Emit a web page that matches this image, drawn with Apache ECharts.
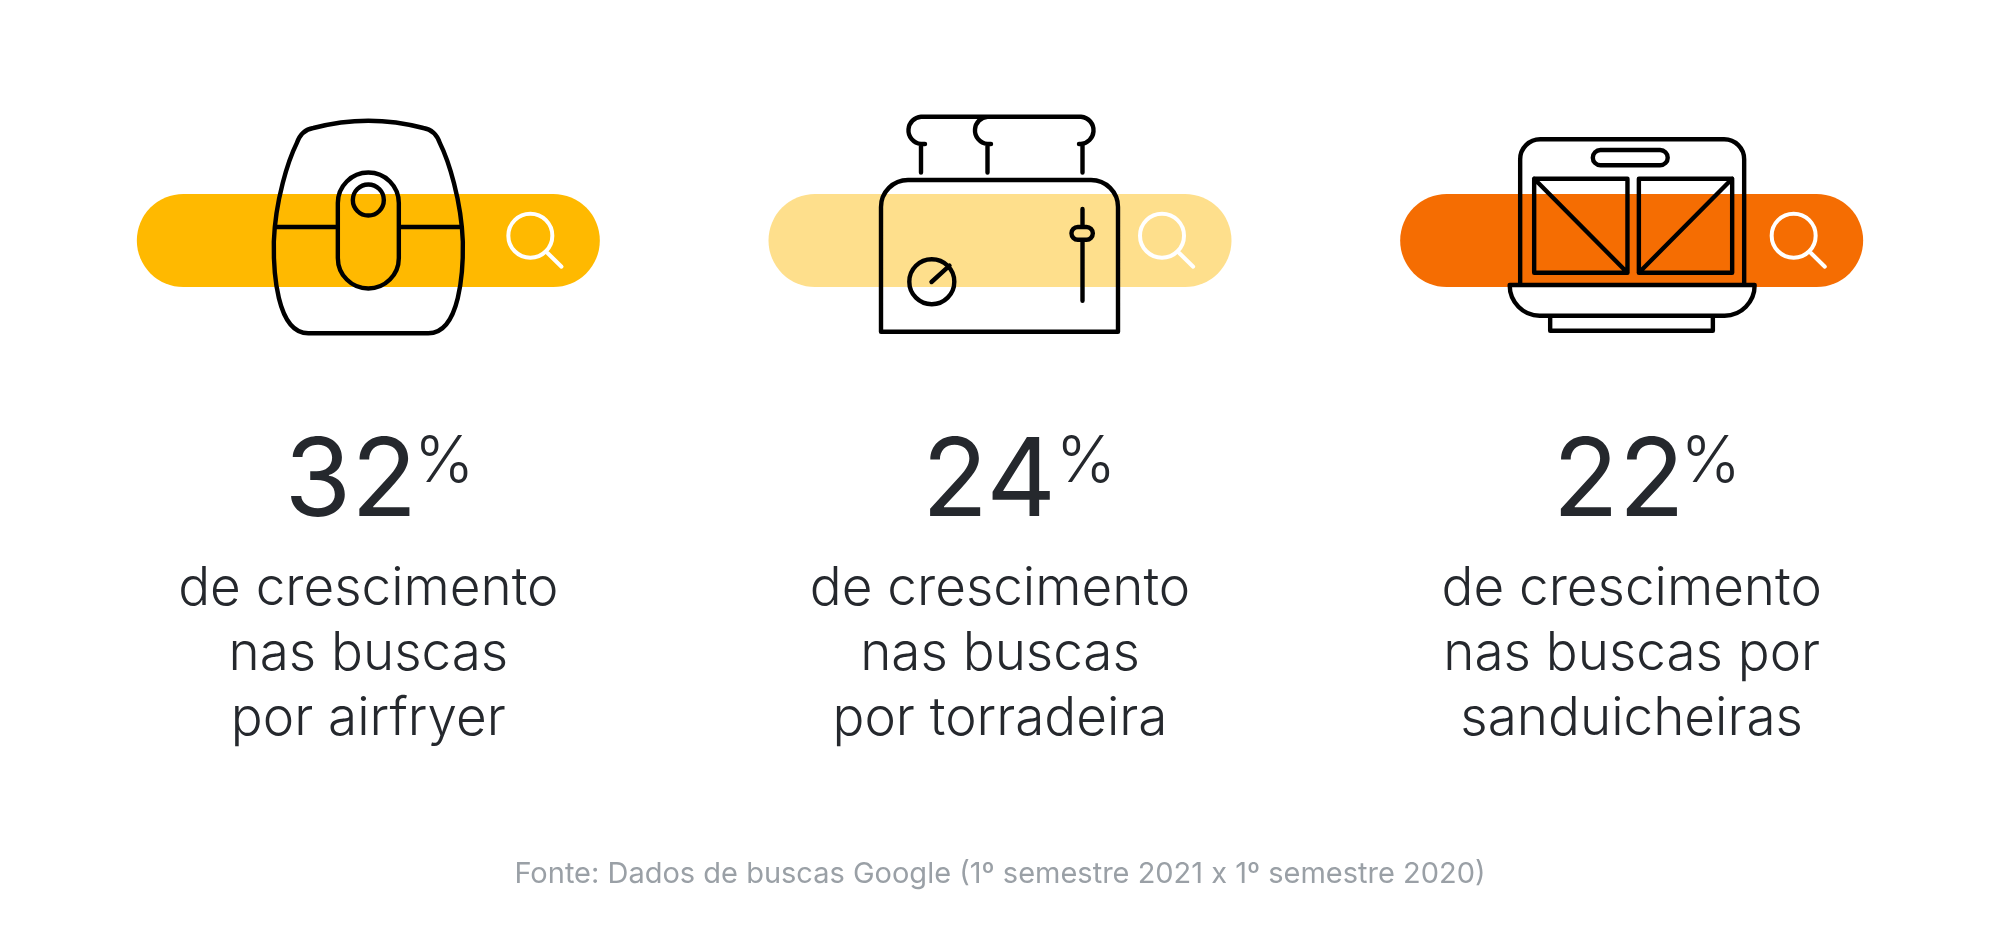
<!DOCTYPE html>
<html>
<head>
<meta charset="utf-8">
<title>Crescimento nas buscas</title>
<script src="https://cdn.jsdelivr.net/npm/echarts@6/dist/echarts.min.js"></script>
<style>
  html, body { margin: 0; background: #fff; }
  #grafico { width: 2000px; height: 950px; }
</style>
</head>
<body>
<div id="grafico"></div>
<script>
var produtos = ['airfryer', 'torradeira', 'sanduicheiras'];
var crescimento = [32, 24, 22];
var linha1 = ['de crescimento', 'de crescimento', 'de crescimento'];
var linha2 = ['nas buscas', 'nas buscas', 'nas buscas por'];
var linha3 = ['por airfryer', 'por torradeira', 'sanduicheiras'];
var fonte = 'Fonte: Dados de buscas Google (1º semestre 2021 x 1º semestre 2020)';

var coresBarra = ['#FFB900', '#FEDF8C', '#F56D02'];
var corTexto = '#25282D';
var familia = 'Inter';

// desenhos dos icones, x relativo ao centro de cada coluna
var icones = [
  'M-55,128 Q0,113.4 55,128 Q67,130 71.5,143 C80,160 93,200 94.5,241.7 C95,270 92,333.3 60,333.3 L-60,333.3 C-92,333.3 -95,270 -94.5,241.7 C-93,200 -80,160 -71.5,143 Q-67,130 -55,128 Z ' +
  'M-30.5,203 A30.5,30.5 0 0 1 30.5,203 L30.5,258 A30.5,30.5 0 0 1 -30.5,258 Z ' +
  'M15.5,200 A15.5,15.5 0 1 1 -15.5,200 A15.5,15.5 0 1 1 15.5,200 Z ' +
  'M-93,227 L-30.5,227 M30.5,227 L93,227',

  'M-119,331.7 L-119,207 A27,27 0 0 1 -92,180 L91,180 A27,27 0 0 1 118,207 L118,331.7 Z ' +
  'M-75,144 L-79,144 A13.7,13.7 0 0 1 -79,116.7 L81,116.7 A13.7,13.7 0 0 1 81,144 L79,144 ' +
  'M-9,144 L-12.5,144 A13.7,13.7 0 0 1 -12.5,116.7 ' +
  'M-79,144 L-79,172.5 M-12.5,144 L-12.5,172.5 M82.5,144 L82.5,172.5 ' +
  'M-45.7,281.7 A22.5,22.5 0 1 1 -90.7,281.7 A22.5,22.5 0 1 1 -45.7,281.7 Z ' +
  'M-68.5,282 L-50.5,265.7 ' +
  'M82.5,209 L82.5,227 M82.5,239.7 L82.5,300.7 ' +
  'M77.8,227 L86.5,227 A6.3,6.3 0 0 1 86.5,239.7 L77.8,239.7 A6.3,6.3 0 0 1 77.8,227 Z',

  'M-111.5,284 L-111.5,159.3 A20,20 0 0 1 -91.5,139.3 L92.5,139.3 A20,20 0 0 1 112.5,159.3 L112.5,284 ' +
  'M-31.2,150 L28.4,150 A7.6,7.6 0 0 1 28.4,165.3 L-31.2,165.3 A7.6,7.6 0 0 1 -31.2,150 Z ' +
  'M-97.5,178.7 L-4.2,178.7 L-4.2,272.7 L-97.5,272.7 Z M-97.5,178.7 L-4.2,272.7 ' +
  'M7.2,178.7 L100.5,178.7 L100.5,272.7 L7.2,272.7 Z M7.2,272.7 L100.5,178.7 ' +
  'M-122,285 L123,285 A30,30.7 0 0 1 93,315.7 L-92,315.7 A30,30.7 0 0 1 -122,285 Z ' +
  'M-81.5,315.7 L-81.5,330.7 L81.2,330.7 L81.2,315.7'
];
// deslocamento do numero grande e do % em cada coluna
var deslocNumero = [-17.5, -11, -13];
var deslocPorcento = [46, 56, 49];

function desenhaColuna(params, api) {
  var i = api.value(0);
  var ponto = api.coord([i, 0]);
  var filhos = [
    {
      type: 'rect',
      shape: { x: -231.5, y: 194, width: 463, height: 93, r: 46.5 },
      style: { fill: coresBarra[i] }
    },
    {
      type: 'path',
      shape: { pathData: 'M184,235.7 A22,22 0 1 1 140,235.7 A22,22 0 1 1 184,235.7 Z M179.2,253 L193.2,266.7' },
      style: { fill: 'none', stroke: '#fff', lineWidth: 4, lineCap: 'round' }
    },
    {
      type: 'path',
      shape: { pathData: icones[i] },
      style: { fill: 'none', stroke: '#000', lineWidth: 4.4, lineCap: 'round', lineJoin: 'round' }
    },
    {
      type: 'text',
      x: deslocNumero[i],
      y: 430,
      style: {
        text: String(api.value(1)),
        fill: corTexto,
        font: '400 108px ' + familia,
        textAlign: 'center',
        verticalAlign: 'top'
      }
    },
    {
      type: 'text',
      x: deslocPorcento[i],
      y: 431,
      style: {
        text: '%',
        fill: corTexto,
        font: '300 64px ' + familia,
        textAlign: 'left',
        verticalAlign: 'top'
      }
    }
  ];
  var linhas = [linha1[i], linha2[i], linha3[i]];
  var topos = [563, 628, 693];
  for (var k = 0; k < linhas.length; k++) {
    filhos.push({
      type: 'text',
      x: 0,
      y: topos[k],
      style: {
        text: linhas[k],
        fill: corTexto,
        font: '350 53px ' + familia,
        textAlign: 'center',
        verticalAlign: 'top'
      }
    });
  }
  return { type: 'group', x: ponto[0], y: ponto[1], children: filhos };
}

var chartDom = document.getElementById('grafico');
var myChart = echarts.init(chartDom);
var option = {
  backgroundColor: '#fff',
  animation: false,
  title: {
    text: fonte,
    left: 'center',
    top: 855,
    textStyle: { color: '#9AA0A6', fontFamily: familia, fontWeight: 400, fontSize: 29 }
  },
  grid: { left: 52.5, top: 0, width: 1895, height: 950 },
  xAxis: { type: 'category', data: produtos, show: false },
  yAxis: { type: 'value', min: 0, max: 950, inverse: true, show: false },
  series: [
    {
      type: 'custom',
      renderItem: desenhaColuna,
      silent: true,
      clip: false,
      data: crescimento.map(function (v, i) { return [i, v]; })
    }
  ]
};
option && myChart.setOption(option);
</script>
</body>
</html>
